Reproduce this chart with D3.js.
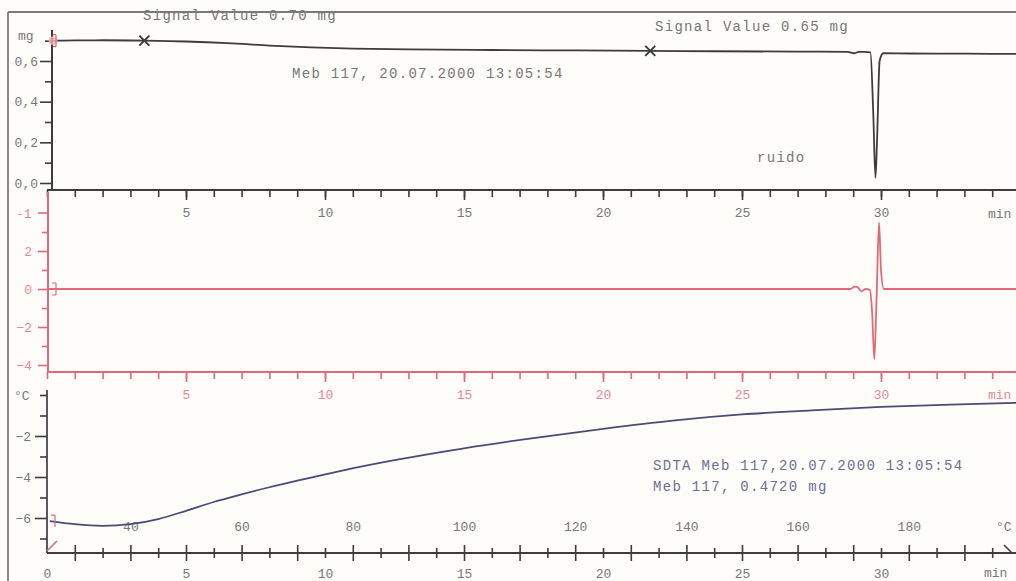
<!DOCTYPE html>
<html>
<head>
<meta charset="utf-8">
<script src="https://cdn.jsdelivr.net/npm/d3@7"></script>
<style>
  html, body { margin: 0; padding: 0; background: #fefdf9; }
  svg { display: block; }
  text { font-family: "Liberation Mono", "DejaVu Sans Mono", monospace; }
</style>
</head>
<body>
<svg id="chart" width="1016" height="581"></svg>
<script>
// ---- TGA (mass, mg) ----
const tgaTime = [0.15, 1, 2, 3.5, 5, 6.5, 8, 9.5, 11, 13, 16, 19, 21.7, 24, 27, 28.8, 29.05, 29.2, 29.4, 29.62, 29.72, 29.8, 29.86, 29.95, 30.08, 31, 33, 35];
const tgaMass = [0.700, 0.701, 0.702, 0.700, 0.696, 0.688, 0.676, 0.667, 0.661, 0.657, 0.654, 0.652, 0.650, 0.648, 0.646, 0.645, 0.638, 0.645, 0.645, 0.642, 0.35, 0.025, 0.22, 0.60, 0.638, 0.637, 0.636, 0.635];

// ---- DTG (derivative) ----
const dtgTime = [0, 10, 20, 28.9, 29.05, 29.15, 29.3, 29.45, 29.6, 29.68, 29.76, 29.84, 29.93, 30.0, 30.1, 32, 35];
const dtgRate = [0, 0, 0, 0, 0.12, 0.1, -0.12, 0, -0.05, -1.2, -3.7, -0.5, 3.5, 1.0, 0, 0, 0];

// ---- SDTA (temperature difference, °C) ----
const sdtaTime = [0.1, 1, 2, 3, 4, 5, 6, 7, 8, 9, 10.5, 12.5, 15, 17.5, 20, 22.5, 25, 27.5, 30, 32.5, 35];
const sdtaTemp = [-6.15, -6.3, -6.38, -6.3, -6.05, -5.65, -5.22, -4.85, -4.5, -4.18, -3.72, -3.18, -2.6, -2.1, -1.65, -1.25, -0.95, -0.75, -0.58, -0.47, -0.38];

// ---- markers and annotations ----
const signalTimes = [3.5, 21.7];
const signalValues = [0.70, 0.65];
const signalLabels = ["Signal Value 0.70 mg", "Signal Value 0.65 mg"];

// ---- tick labels ----
const timeTicks = [5, 10, 15, 20, 25, 30];
const timeTicksBottom = [0, 5, 10, 15, 20, 25, 30];
const tempTicks = [40, 60, 80, 100, 120, 140, 160, 180];
const massTicks = [0.0, 0.2, 0.4, 0.6];
const massMinor = [0.1, 0.3, 0.5, 0.7];
const dtgTicks = [2, 0, -2, -4];
const dtgMinor = [3, 1, -1, -3];
const sdtaTicks = [-2, -4, -6];
const sdtaMinor = [-1, -3, -5, -7];

const svg = d3.select("#chart");

const INK = "#3c3c3c", GREY = "#777", RED = "#e26a78", REDTXT = "#e88a95", BLUE = "#4b4b78", BLUETXT = "#6e6e96";

// shared time scale
const x = d3.scaleLinear().domain([0, 35]).range([47, 47 + 35 * 27.8]);
// programme temperature (25 °C start, 5 K/min)
const xT = d3.scaleLinear().domain([25, 25 + 35 * 5]).range(x.range());

const yTga = d3.scaleLinear().domain([0, 0.6]).range([183, 61]);
const yDtg = d3.scaleLinear().domain([-4, 4]).range([365, 213]);
const ySdta = d3.scaleLinear().domain([-6, 0]).range([518, 395]);

const intFmt = d3.format("d");

// outer frame
svg.append("line").attr("x1", 8).attr("x2", 8).attr("y1", 12).attr("y2", 581)
  .attr("stroke", "#8a8a8a").attr("stroke-width", 2);

function styleAxis(g, color) {
  g.select(".domain").remove();
  g.selectAll("line").attr("stroke", color).attr("stroke-width", 1.6);
  g.selectAll("text").attr("fill", color).attr("font-size", 13);
}

// ======== TGA panel ========
const tgaG = svg.append("g");
tgaG.append("text").attr("x", 143).attr("y", 20).attr("fill", GREY).attr("font-size", 14)
  .attr("letter-spacing", 1.3).text(signalLabels[0]);
tgaG.append("text").attr("x", 655).attr("y", 31).attr("fill", GREY).attr("font-size", 14)
  .attr("letter-spacing", 1.3).text(signalLabels[1]);
tgaG.append("text").attr("x", 292).attr("y", 78).attr("fill", GREY).attr("font-size", 14)
  .attr("letter-spacing", 1.3).text("Meb 117, 20.07.2000 13:05:54");
tgaG.append("text").attr("x", 757).attr("y", 162).attr("fill", GREY).attr("font-size", 14)
  .attr("letter-spacing", 1.3).text("ruido");
tgaG.append("line").attr("x1", 8).attr("x2", 1016).attr("y1", 12).attr("y2", 12)
  .attr("stroke", "#7a7a7a").attr("stroke-width", 2);

// y axis (mass)
const yAxX = x(0) + 5;
tgaG.append("line").attr("x1", yAxX).attr("x2", yAxX).attr("y1", 30).attr("y2", 190)
  .attr("stroke", INK).attr("stroke-width", 2);
tgaG.append("g").attr("transform", `translate(${yAxX},0)`)
  .call(d3.axisLeft(yTga).tickValues(massTicks).tickSize(12).tickPadding(2))
  .call(g => styleAxis(g, INK))
  .call(g => g.selectAll("text").attr("fill", GREY).text(d => d3.format(".1f")(d).replace(".", ",")));
tgaG.append("g").attr("transform", `translate(${yAxX},0)`)
  .call(d3.axisLeft(yTga).tickValues(massMinor).tickSize(7).tickFormat(""))
  .call(g => styleAxis(g, INK));
tgaG.append("text").attr("x", 18).attr("y", 40).attr("fill", GREY).attr("font-size", 13).text("mg");

// x axis (time) under TGA panel
const axTopY = 190;
tgaG.append("line").attr("x1", x(0)).attr("x2", 1016).attr("y1", axTopY).attr("y2", axTopY)
  .attr("stroke", INK).attr("stroke-width", 2);
tgaG.append("g").attr("transform", `translate(0,${axTopY})`)
  .call(d3.axisBottom(x).tickValues(d3.range(0, 36, 1)).tickSize(7).tickFormat(""))
  .call(g => styleAxis(g, INK));
tgaG.append("g").attr("transform", `translate(0,${axTopY})`)
  .call(d3.axisBottom(x).tickValues(timeTicks).tickSize(10).tickPadding(8).tickFormat(intFmt))
  .call(g => styleAxis(g, INK))
  .call(g => g.selectAll("text").attr("fill", GREY));
tgaG.append("text").attr("x", 988).attr("y", 218).attr("fill", GREY).attr("font-size", 13).text("min");

// TGA curve
const tgaData = tgaTime.map((t, i) => [t, tgaMass[i]]);
tgaG.append("path").datum(tgaData)
  .attr("d", d3.line().x(d => x(d[0])).y(d => yTga(d[1])).curve(d3.curveMonotoneX))
  .attr("fill", "none").attr("stroke", INK).attr("stroke-width", 1.8);

// start marker
const y0m = yTga(tgaMass[0]);
tgaG.append("circle").attr("cx", yAxX + 1).attr("cy", y0m).attr("r", 4.5)
  .attr("fill", "#f0b0b8").attr("opacity", 0.8);
tgaG.append("path").attr("d", `M${yAxX + 4},${y0m - 6}v12M${yAxX + 1},${y0m - 6}h3M${yAxX + 1},${y0m + 6}h3`)
  .attr("stroke", RED).attr("fill", "none").attr("stroke-width", 1.2);

// signal value crosses
signalTimes.forEach((t, i) => {
  const cx = x(t), cy = yTga(signalValues[i]), s = 5;
  tgaG.append("path").attr("d", `M${cx - s},${cy - s}L${cx + s},${cy + s}M${cx - s},${cy + s}L${cx + s},${cy - s}`)
    .attr("stroke", INK).attr("stroke-width", 2);
});

// ======== DTG panel ========
const dtgG = svg.append("g");
const midAxX = x(0) + 1;
dtgG.append("line").attr("x1", midAxX).attr("x2", midAxX).attr("y1", 192).attr("y2", 372)
  .attr("stroke", RED).attr("stroke-width", 2);
dtgG.append("g").attr("transform", `translate(${midAxX},0)`)
  .call(d3.axisLeft(yDtg).tickValues(dtgTicks).tickSize(10).tickPadding(6).tickFormat(intFmt))
  .call(g => styleAxis(g, RED))
  .call(g => g.selectAll("text").attr("fill", REDTXT));
dtgG.append("g").attr("transform", `translate(${midAxX},0)`)
  .call(d3.axisLeft(yDtg).tickValues(dtgMinor).tickSize(6).tickFormat(""))
  .call(g => styleAxis(g, RED));
dtgG.append("line").attr("x1", midAxX - 10).attr("x2", midAxX).attr("y1", yDtg(4)).attr("y2", yDtg(4))
  .attr("stroke", RED).attr("stroke-width", 1.6);
dtgG.append("text").attr("x", 16).attr("y", yDtg(4) + 5).attr("fill", REDTXT).attr("font-size", 13).text("-1");

// time axis (red) under DTG panel
const axMidY = 372;
dtgG.append("line").attr("x1", midAxX).attr("x2", 1016).attr("y1", axMidY).attr("y2", axMidY)
  .attr("stroke", RED).attr("stroke-width", 2);
dtgG.append("g").attr("transform", `translate(0,${axMidY})`)
  .call(d3.axisBottom(x).tickValues(d3.range(0, 36, 1)).tickSize(7).tickFormat(""))
  .call(g => styleAxis(g, RED));
dtgG.append("g").attr("transform", `translate(0,${axMidY})`)
  .call(d3.axisBottom(x).tickValues(timeTicks).tickSize(10).tickPadding(8).tickFormat(intFmt))
  .call(g => styleAxis(g, RED))
  .call(g => g.selectAll("text").attr("fill", REDTXT));
dtgG.append("text").attr("x", 988).attr("y", 399).attr("fill", REDTXT).attr("font-size", 13).text("min");

// DTG curve
const dtgData = dtgTime.map((t, i) => [t, dtgRate[i]]);
dtgG.append("path").datum(dtgData)
  .attr("d", d3.line().x(d => x(d[0])).y(d => yDtg(d[1])).curve(d3.curveMonotoneX))
  .attr("fill", "none").attr("stroke", RED).attr("stroke-width", 1.8);
dtgG.append("path").attr("d", `M${midAxX + 8},${yDtg(0) - 6}v12M${midAxX + 4},${yDtg(0) - 6}h4M${midAxX + 4},${yDtg(0) + 6}h4`)
  .attr("stroke", RED).attr("fill", "none").attr("stroke-width", 1.2);

// ======== SDTA panel ========
const sdtaG = svg.append("g");
const botAxX = x(0);
sdtaG.append("line").attr("x1", botAxX).attr("x2", botAxX).attr("y1", 390).attr("y2", 553)
  .attr("stroke", "#5a5a5a").attr("stroke-width", 2);
sdtaG.append("g").attr("transform", `translate(${botAxX},0)`)
  .call(d3.axisLeft(ySdta).tickValues(sdtaTicks).tickSize(12).tickPadding(4).tickFormat(intFmt))
  .call(g => styleAxis(g, INK))
  .call(g => g.selectAll("text").attr("fill", GREY));
sdtaG.append("g").attr("transform", `translate(${botAxX},0)`)
  .call(d3.axisLeft(ySdta).tickValues(sdtaMinor.concat([0])).tickSize(7).tickFormat(""))
  .call(g => styleAxis(g, INK));
sdtaG.append("text").attr("x", 14).attr("y", ySdta(0) + 5).attr("fill", GREY).attr("font-size", 13).text("°C");

sdtaG.append("text").attr("x", 653).attr("y", 470).attr("fill", BLUETXT).attr("font-size", 14)
  .attr("letter-spacing", 1.3).text("SDTA Meb 117,20.07.2000 13:05:54");
sdtaG.append("text").attr("x", 653).attr("y", 491).attr("fill", BLUETXT).attr("font-size", 14)
  .attr("letter-spacing", 1.3).text("Meb 117, 0.4720 mg");

// combined time / temperature axis
const axBotY = 553;
sdtaG.append("line").attr("x1", botAxX).attr("x2", 1016).attr("y1", axBotY).attr("y2", axBotY)
  .attr("stroke", INK).attr("stroke-width", 2);
const tempAll = d3.range(30, 201, 5);
sdtaG.append("g").attr("transform", `translate(0,${axBotY - 5})`)
  .call(d3.axisBottom(xT).tickValues(tempAll.filter(v => v % 10 !== 0)).tickSize(10).tickFormat(""))
  .call(g => styleAxis(g, INK));
sdtaG.append("g").attr("transform", `translate(0,${axBotY - 8})`)
  .call(d3.axisBottom(xT).tickValues(tempAll.filter(v => v % 10 === 0)).tickSize(16).tickFormat(""))
  .call(g => styleAxis(g, INK));
sdtaG.append("g").attr("transform", `translate(0,${axBotY})`)
  .call(d3.axisTop(xT).tickValues(tempTicks).tickSize(0).tickPadding(22).tickFormat(intFmt))
  .call(g => styleAxis(g, GREY));
sdtaG.append("text").attr("x", 996).attr("y", 531).attr("fill", GREY).attr("font-size", 13).text("°C");
sdtaG.append("g").attr("transform", `translate(0,${axBotY})`)
  .call(d3.axisBottom(x).tickValues(timeTicksBottom).tickSize(0).tickPadding(16).tickFormat(intFmt))
  .call(g => styleAxis(g, GREY));
sdtaG.append("text").attr("x", 984).attr("y", 577).attr("fill", GREY).attr("font-size", 13).text("min");
sdtaG.append("path").attr("d", `M${botAxX},${axBotY - 2}l10,-10`).attr("stroke", RED).attr("stroke-width", 1.6);
sdtaG.append("path").attr("d", `M1004,${axBotY - 8}l8,8`).attr("stroke", INK).attr("stroke-width", 1.6);

// SDTA curve
const sdtaData = sdtaTime.map((t, i) => [t, sdtaTemp[i]]);
sdtaG.append("path").datum(sdtaData)
  .attr("d", d3.line().x(d => x(d[0])).y(d => ySdta(d[1])).curve(d3.curveMonotoneX))
  .attr("fill", "none").attr("stroke", BLUE).attr("stroke-width", 1.8);
const ys0 = ySdta(sdtaTemp[0]);
sdtaG.append("path").attr("d", `M${botAxX + 8},${ys0 - 6}v12M${botAxX + 4},${ys0 - 6}h4`)
  .attr("stroke", RED).attr("fill", "none").attr("stroke-width", 1.2);
</script>
</body>
</html>
